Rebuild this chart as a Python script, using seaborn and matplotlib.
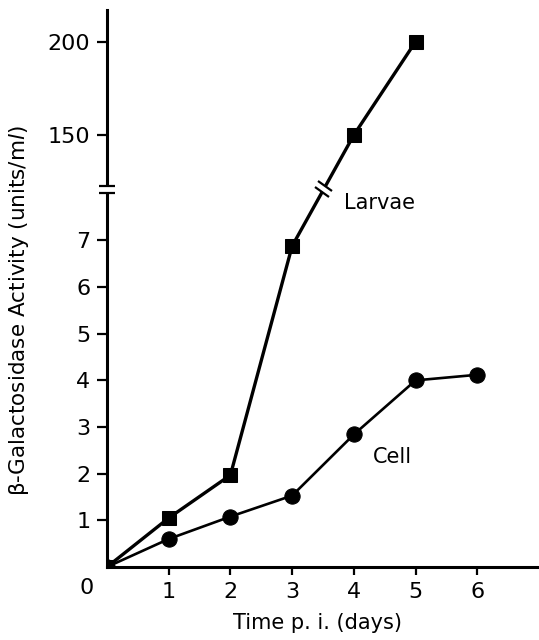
import numpy as np
import matplotlib
matplotlib.use("Agg")
import matplotlib.pyplot as plt
from matplotlib.markers import MarkerStyle
from matplotlib.transforms import Affine2D, ScaledTranslation, blended_transform_factory
import seaborn as sns

# data
larvae_days = [0, 1, 2, 3, 4, 5]
larvae_activity = [0, 1.05, 1.97, 6.88, 150, 200]
cell_days = [0, 1, 2, 3, 4, 5, 6]
cell_activity = [0, 0.6, 1.08, 1.53, 2.84, 4.0, 4.12]

x_ticks = [1, 2, 3, 4, 5, 6]
y_ticks = [1, 2, 3, 4, 5, 6, 7, 150, 200]

# broken y axis: 0..LOW_TOP linear, then HIGH_BOTTOM.. compressed
LOW_TOP = 8.1
HIGH_BOTTOM = 121
HIGH_SCALE = 0.04


def fwd(v):
    v = np.asarray(v, dtype=float)
    hi = LOW_TOP + (v - HIGH_BOTTOM) * HIGH_SCALE
    return np.where(v <= LOW_TOP, v, np.where(v >= HIGH_BOTTOM, hi, LOW_TOP))


def inv(t):
    t = np.asarray(t, dtype=float)
    return np.where(t <= LOW_TOP, t, HIGH_BOTTOM + (t - LOW_TOP) / HIGH_SCALE)


sns.set_theme(style="ticks")
plt.rcParams["font.family"] = ["DejaVu Sans"]
plt.rcParams["mathtext.fontset"] = "dejavusans"
plt.rcParams["text.color"] = "black"

fig = plt.figure(figsize=(5.39, 6.4), dpi=100)
ax = fig.add_axes([0.1985, 0.1141, 0.8015, 0.8703])

sns.lineplot(x=larvae_days, y=larvae_activity, ax=ax, color="black", linewidth=2.4,
             marker="s", markersize=10.5, markeredgecolor="black", errorbar=None)
sns.lineplot(x=cell_days, y=cell_activity, ax=ax, color="black", linewidth=1.9,
             marker="o", markersize=11, markeredgecolor="black", errorbar=None)

ax.set_yscale("function", functions=(fwd, inv))
ax.set_xlim(0, 7)
ax.set_ylim(0, 217)
ax.set_xticks(x_ticks)
ax.set_yticks(y_ticks)
ax.set_xticklabels([str(v) for v in x_ticks])
ax.set_yticklabels([str(v) for v in y_ticks])
ax.minorticks_off()

for side in ["top", "right"]:
    ax.spines[side].set_visible(False)
for side in ["left", "bottom"]:
    ax.spines[side].set_linewidth(2.2)
    ax.spines[side].set_color("black")

ax.tick_params(axis="y", direction="out", length=7, width=1.6, pad=5, labelsize=16, colors="black")
ax.tick_params(axis="x", direction="out", length=6, width=1.6, pad=5, labelsize=16, colors="black")

ax.set_xlabel("Time p. i. (days)", fontsize=15, color="black")
ax.xaxis.set_label_coords(0.488, -0.082)
ax.set_ylabel(r"β-Galactosidase Activity (units/m$\mathit{l}$)", fontsize=15.5, color="black")
ax.yaxis.set_label_coords(-0.177, 0.46)

ax.annotate("0", xy=(0, 0), xytext=(-15, -15), textcoords="offset points",
            ha="center", va="center", fontsize=16, color="black", annotation_clip=False)

ax.text(3.84, 7.8, "Larvae", fontsize=15, va="center", ha="left", color="black")
ax.text(4.31, 2.36, "Cell", fontsize=15, va="center", ha="left", color="black")

# break marks on the y axis
tr = blended_transform_factory(ax.transAxes, ax.transData)
ax.plot([0], [HIGH_BOTTOM], transform=tr, marker="_", markersize=12, mew=4.5,
        color="white", clip_on=False, zorder=5)
for dy in (-0.035, 0.035):
    off = ScaledTranslation(0, dy, fig.dpi_scale_trans)
    ax.plot([0], [HIGH_BOTTOM], transform=tr + off, marker="_", markersize=11, mew=1.6,
            color="black", clip_on=False, zorder=6)

# break mark on the larvae line between day 3 and day 4
t3, t4 = fwd(larvae_activity[3]), fwd(larvae_activity[4])
frac = (LOW_TOP - t3) / (t4 - t3)
bx = larvae_days[3] + frac * (larvae_days[4] - larvae_days[3])
p3 = ax.transData.transform((larvae_days[3], larvae_activity[3]))
p4 = ax.transData.transform((larvae_days[4], larvae_activity[4]))
ang = np.degrees(np.arctan2(p4[1] - p3[1], p4[0] - p3[0]))
ux, uy = np.cos(np.radians(ang)), np.sin(np.radians(ang))
gap_marker = MarkerStyle("_", transform=Affine2D().rotate_deg(ang + 90))
tick_marker = MarkerStyle("_", transform=Affine2D().rotate_deg(ang + 90 - 8))
ax.plot([bx], [LOW_TOP], marker=gap_marker, markersize=9, mew=4.5, color="white", zorder=5)
for s in (-0.035, 0.035):
    off = ScaledTranslation(s * ux, s * uy, fig.dpi_scale_trans)
    ax.plot([bx], [LOW_TOP], transform=ax.transData + off, marker=tick_marker,
            markersize=13, mew=1.6, color="black", zorder=6)

fig.savefig("out.png", dpi=100)
plt.close(fig)
